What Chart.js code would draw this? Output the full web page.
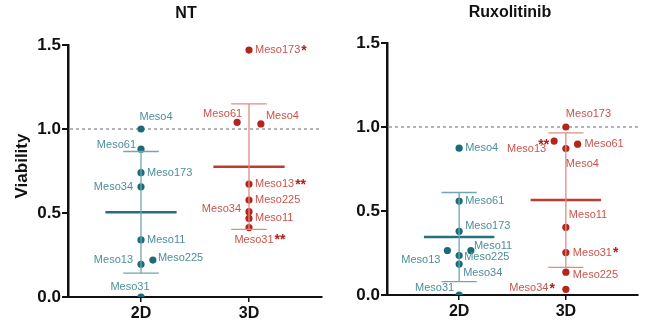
<!DOCTYPE html>
<html>
<head>
<meta charset="utf-8">
<script src="https://cdn.jsdelivr.net/npm/chart.js@4.4.1/dist/chart.umd.min.js"></script>
<style>
  html, body { margin: 0; padding: 0; background: #fff; }
  #wrap { position: relative; width: 651px; height: 331px; }
  canvas { position: absolute; top: 0; }
</style>
</head>
<body>
<div id="wrap">
  <canvas id="nt" width="330" height="331" style="left:0;width:330px;height:331px"></canvas>
  <canvas id="rux" width="321" height="331" style="left:330px;width:321px;height:331px"></canvas>
</div>
<script>
// Viability of mesothelioma lines, 2D vs 3D culture, untreated (NT) and Ruxolitinib.
// Dots = cell lines, thick bar = mean, thin bar + caps = SD.

const CELL_LINES = ["Meso4", "Meso61", "Meso173", "Meso34", "Meso11", "Meso225", "Meso13", "Meso31"];
const GROUPS = ["2D", "3D"];
const Y_TICKS = [0, 0.5, 1.0, 1.5];

// NT panel
const ntViab2D = [1.00, 0.88, 0.74, 0.656, 0.34, 0.22, 0.195, 0.00];
const ntViab3D = [1.03, 1.04, 1.47, 0.508, 0.468, 0.577, 0.672, 0.413];
const ntMean = [0.504, 0.776];
const ntSD = [0.362, 0.373];
const ntStars3D = ["", "", "*", "", "", "", "**", "**"];

// Ruxolitinib panel
const ruxViab2D = [0.874, 0.559, 0.379, 0.184, 0.265, 0.235, 0.265, 0.00];
const ruxViab3D = [0.872, 0.898, 1.00, 0.034, 0.403, 0.136, 0.916, 0.253];
const ruxMean = [0.345, 0.565];
const ruxSD = [0.265, 0.40];
const ruxStars3D = ["", "", "", "*", "", "", "**", "*"];

const TEAL = "#1b6b79", TEAL_LBL = "#4d8f9b", TEAL_ERR = "#6fa6b0", TEAL_MEAN = "#25707f";
const RED = "#b3261e", RED_LBL = "#c9544c", RED_ERR = "#df8b85", RED_MEAN = "#c23a2e", STAR = "#a8231c";
const FONT = "'Liberation Sans', Arial, sans-serif";

// label placement per point: [dx, dy, align, starMode]
const ntLayout = {
  title: "NT", titleX: 186, titleY: 14, yTitle: "Viability",
  yWidth: 68, xHeight: 34, pad: { top: 45, right: 8, left: 0, bottom: 0 },
  jitter: [[0, 0, 0, 0, 0, 0.11, 0, 0], [0.11, -0.11, 0, 0, 0, 0, 0, 0]],
  labels: [
    { Meso4: [15, -12, "center"], Meso61: [-5, -4, "right"], Meso173: [6, 0, "left"], Meso34: [-8, 0, "right"],
      Meso11: [6, 0, "left"], Meso225: [5, -2, "left"], Meso13: [-8, -4, "right"], Meso31: [-11, -10, "center"] },
    { Meso173: [6, 0, "left"], Meso61: [5, -8, "right"], Meso4: [5, -8, "left"], Meso13: [6, 0, "left"],
      Meso225: [6, 0, "left"], Meso34: [-8, -3, "right"], Meso11: [6, 0, "left"], Meso31: [5, 12, "center"] },
  ],
};
const ruxLayout = {
  title: "Ruxolitinib", titleX: 180, titleY: 13, yTitle: null,
  yWidth: 57, xHeight: 36, pad: { top: 43, right: 13, left: 0, bottom: 0 },
  jitter: [[0, 0, 0, 0, 0.11, 0, -0.11, 0], [0, 0.11, 0, 0, 0, 0, -0.11, 0]],
  labels: [
    { Meso4: [6, 0, "left"], Meso61: [6, 0, "left"], Meso173: [6, -5, "left"], Meso11: [3, -5, "left"],
      Meso13: [-7, 9, "right"], Meso225: [5, 1, "left"], Meso34: [4, 9, "left"], Meso31: [-5, -7, "right"] },
    { Meso173: [0, -13, "left"], Meso13: [-8, 8, "right", "pre"], Meso61: [7, 0, "left"], Meso4: [0, 15, "left"],
      Meso11: [3, -12, "left"], Meso31: [7, 0, "left"], Meso225: [7, 3, "left"], Meso34: [-12, -1, "right"] },
  ],
};

const X_MIN = 0.324, X_MAX = 2.676, MEAN_HALF = 0.33, CAP_HALF = 0.165;

function seg(x0, y0, x1, y1) { return [{ x: x0, y: y0 }, { x: x1, y: y1 }]; }

function lineDs(data, color, width) {
  return { data, showLine: true, borderColor: color, borderWidth: width, pointRadius: 0, fill: false };
}

const panelPlugin = {
  id: "panel",
  beforeDatasetsDraw(chart) {
    const { ctx, chartArea, scales } = chart;
    const y1 = scales.y.getPixelForValue(1);
    ctx.save();
    ctx.strokeStyle = "#6b6b6b";
    ctx.lineWidth = 1;
    ctx.setLineDash([3, 3]);
    ctx.beginPath();
    ctx.moveTo(chartArea.left + 2, y1);
    ctx.lineTo(chartArea.right, y1);
    ctx.stroke();
    ctx.restore();
  },
  afterDatasetsDraw(chart) {
    const { ctx } = chart;
    const p = chart.options.plugins.panel;
    ctx.save();
    // titles
    ctx.fillStyle = "#111";
    ctx.font = `bold 16px ${FONT}`;
    ctx.textAlign = "center";
    ctx.textBaseline = "middle";
    ctx.fillText(p.layout.title, p.layout.titleX, p.layout.titleY);
    if (p.layout.yTitle) {
      ctx.save();
      ctx.translate(22, 166);
      ctx.rotate(-Math.PI / 2);
      ctx.font = `bold 17px ${FONT}`;
      ctx.fillText(p.layout.yTitle, 0, 0);
      ctx.restore();
    }
    // point labels
    p.pointSets.forEach((set) => {
      const meta = chart.getDatasetMeta(set.index);
      CELL_LINES.forEach((name, i) => {
        const el = meta.data[i];
        const [dx, dy, align, mode] = set.labels[name];
        const star = set.stars[i];
        ctx.font = `11px ${FONT}`;
        ctx.fillStyle = set.labelColor;
        ctx.textBaseline = "middle";
        const tx = el.x + dx, ty = el.y + dy;
        const w = ctx.measureText(name).width;
        let left = align === "left" ? tx : align === "right" ? tx - w : tx - w / 2;
        if (star && mode !== "pre" && align === "right") {
          ctx.font = `bold 14px ${FONT}`;
          left -= ctx.measureText(star).width;
          ctx.font = `11px ${FONT}`;
        }
        ctx.textAlign = "left";
        ctx.fillText(name, left, ty);
        if (star) {
          ctx.font = `bold 14px ${FONT}`;
          ctx.fillStyle = STAR;
          if (mode === "pre") {
            ctx.textAlign = "right";
            ctx.fillText(star, el.x - 5, el.y + 4);
          } else {
            ctx.fillText(star, left + w + 1, ty + 1);
          }
        }
      });
    });
    ctx.restore();
  },
};

function makePanel(id, viab, mean, sd, stars, layout) {
  const colors = [[TEAL, TEAL_ERR, TEAL_MEAN, TEAL_LBL], [RED, RED_ERR, RED_MEAN, RED_LBL]];
  const datasets = [];
  const pointSets = [];
  GROUPS.forEach((g, gi) => {
    const gx = gi + 1;
    const [pc, ec, mc, lc] = colors[gi];
    const lo = mean[gi] - sd[gi], hi = mean[gi] + sd[gi];
    datasets.push(lineDs(seg(gx, lo, gx, hi), ec, 1.3));
    datasets.push(lineDs(seg(gx - CAP_HALF, hi, gx + CAP_HALF, hi), ec, 1.3));
    datasets.push(lineDs(seg(gx - CAP_HALF, lo, gx + CAP_HALF, lo), ec, 1.3));
    datasets.push(lineDs(seg(gx - MEAN_HALF, mean[gi], gx + MEAN_HALF, mean[gi]), mc, 2.5));
  });
  GROUPS.forEach((g, gi) => {
    const gx = gi + 1;
    const [pc, ec, mc, lc] = colors[gi];
    pointSets.push({
      index: datasets.length,
      labels: layout.labels[gi],
      stars: gi === 1 ? stars : CELL_LINES.map(() => ""),
      labelColor: lc,
    });
    datasets.push({
      data: viab[gi].map((v, i) => ({ x: gx + layout.jitter[gi][i], y: v })),
      pointRadius: 3.6,
      pointBackgroundColor: pc,
      pointBorderColor: pc,
      pointBorderWidth: 0,
      showLine: false,
    });
  });

  return new Chart(document.getElementById(id), {
    type: "scatter",
    data: { datasets },
    options: {
      responsive: false,
      animation: false,
      layout: { padding: layout.pad },
      plugins: {
        legend: { display: false },
        tooltip: { enabled: false },
        panel: { layout, pointSets },
      },
      scales: {
        x: {
          type: "linear",
          min: X_MIN,
          max: X_MAX,
          afterFit: (s) => { s.height = layout.xHeight; },
          afterBuildTicks: (s) => { s.ticks = GROUPS.map((g, i) => ({ value: i + 1 })); },
          grid: { display: true, drawOnChartArea: false, drawTicks: true, tickLength: 5, color: "#111", lineWidth: 1.5 },
          border: { display: true, color: "#111", width: 2 },
          ticks: {
            color: "#111",
            font: { family: FONT, size: 16, weight: "bold" },
            padding: 2,
            maxRotation: 0,
            callback: (v) => GROUPS[v - 1] ?? "",
          },
        },
        y: {
          min: 0,
          max: 1.5,
          afterFit: (s) => { s.width = layout.yWidth; },
          afterBuildTicks: (s) => { s.ticks = Y_TICKS.map((v) => ({ value: v })); },
          grid: { display: true, drawOnChartArea: false, drawTicks: true, tickLength: 6, color: "#111", lineWidth: 2 },
          border: { display: true, color: "#111", width: 2.5 },
          ticks: {
            color: "#111",
            font: { family: FONT, size: 17, weight: "bold" },
            padding: 1,
            callback: (v) => Number(v).toFixed(1),
          },
        },
      },
    },
    plugins: [panelPlugin],
  });
}

makePanel("nt", [ntViab2D, ntViab3D], ntMean, ntSD, ntStars3D, ntLayout);
makePanel("rux", [ruxViab2D, ruxViab3D], ruxMean, ruxSD, ruxStars3D, ruxLayout);
</script>
</body>
</html>
